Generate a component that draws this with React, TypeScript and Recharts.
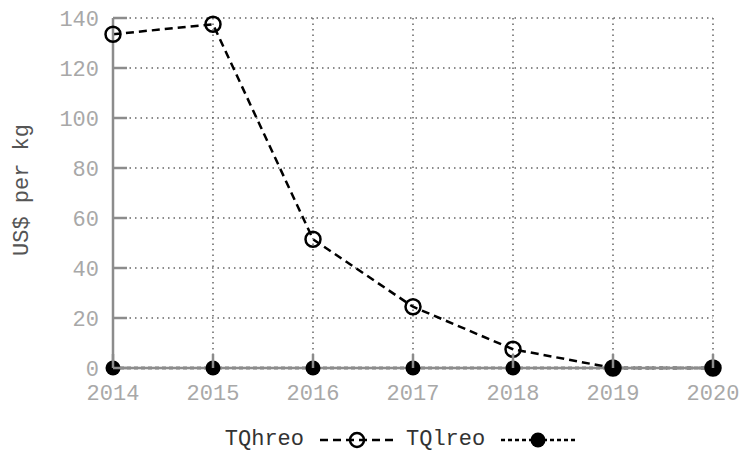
import { LineChart, Line, XAxis, YAxis, CartesianGrid, Label } from "recharts";

const years = [2014, 2015, 2016, 2017, 2018, 2019, 2020];
const tqhreo = [133.5, 137.5, 51.5, 24.5, 7.5, 0, 0];
const tqlreo = [0, 0, 0, 0, 0, 0, 0];
const yTicks = [0, 20, 40, 60, 80, 100, 120, 140];

const chartData = years.map((year, i) => ({
  year,
  TQhreo: tqhreo[i],
  TQlreo: tqlreo[i],
}));

const FONT = "'Courier New', 'Liberation Mono', monospace";
const AXIS_GRAY = "#8c8c8c";
const LABEL_GRAY = "#a8a8a8";
const TICK_LEN = 14;

function YTick({ x, y, payload }: any) {
  return (
    <g>
      <line x1={x} x2={x + TICK_LEN} y1={y} y2={y} stroke={AXIS_GRAY} strokeWidth={2.5} />
      <text x={x - 14} y={y} dy="0.35em" textAnchor="end" fill={LABEL_GRAY} fontSize={22} fontFamily={FONT}>
        {payload.value}
      </text>
    </g>
  );
}

function XTick({ x, y, payload }: any) {
  return (
    <g>
      <line x1={x} x2={x} y1={y} y2={y - TICK_LEN} stroke={AXIS_GRAY} strokeWidth={2.5} />
      <text x={x} y={y + 32} textAnchor="middle" fill={LABEL_GRAY} fontSize={22} fontFamily={FONT}>
        {payload.value}
      </text>
    </g>
  );
}

function YLabel({ viewBox }: any) {
  const cx = viewBox.x + 20;
  const cy = viewBox.y + viewBox.height / 2 - 3;
  return (
    <text
      x={cx}
      y={cy}
      dy="0.35em"
      textAnchor="middle"
      transform={`rotate(-90, ${cx}, ${cy})`}
      fill="#555"
      fontSize={22}
      fontFamily={FONT}
    >
      US$ per kg
    </text>
  );
}

function LegendItem({ name, dash, filled }: { name: string; dash: string; filled: boolean }) {
  return (
    <div style={{ display: "flex", alignItems: "center" }}>
      <span style={{ fontFamily: FONT, fontSize: 22, color: "#333" }}>{name}</span>
      <svg width={74} height={24} style={{ marginLeft: 16, marginRight: 12 }}>
        <line x1={0} x2={74} y1={12} y2={12} stroke="#000" strokeWidth={2.5} strokeDasharray={dash} />
        <circle
          cx={37}
          cy={12}
          r={filled ? 7.5 : 7}
          fill={filled ? "#000" : "none"}
          stroke="#000"
          strokeWidth={filled ? 0 : 2.5}
        />
      </svg>
    </div>
  );
}

export default function App() {
  return (
    <div style={{ position: "absolute", left: 0, top: 0, width: 742, height: 451, background: "#fff" }}>
      <LineChart
        width={742}
        height={451}
        data={chartData}
        margin={{ top: 18, right: 29, left: 0, bottom: 0 }}
      >
        <CartesianGrid stroke="#666" strokeWidth={1.5} strokeDasharray="1.5 4" />
        <XAxis
          dataKey="year"
          type="number"
          domain={[2014, 2020]}
          ticks={years}
          height={83}
          axisLine={{ stroke: AXIS_GRAY, strokeWidth: 2.5 }}
          tickLine={false}
          tickSize={0}
          tickMargin={0}
          tick={<XTick />}
        />
        <YAxis
          domain={[0, 140]}
          ticks={yTicks}
          width={113}
          axisLine={{ stroke: AXIS_GRAY, strokeWidth: 2.5 }}
          tickLine={false}
          tickSize={0}
          tickMargin={0}
          tick={<YTick />}
        >
          <Label content={<YLabel />} />
        </YAxis>
        <Line
          dataKey="TQlreo"
          type="linear"
          stroke="#000"
          strokeWidth={2.5}
          strokeDasharray="4 3"
          dot={{ r: 7.5, fill: "#000", stroke: "#000", strokeWidth: 0 }}
          isAnimationActive={false}
        />
        <Line
          dataKey="TQhreo"
          type="linear"
          stroke="#000"
          strokeWidth={2.5}
          strokeDasharray="8 5"
          dot={{ r: 7.5, fill: "none", stroke: "#000", strokeWidth: 2.5, strokeDasharray: "0" }}
          isAnimationActive={false}
        />
      </LineChart>
      <div
        style={{
          position: "absolute",
          top: 427,
          left: 0,
          width: 742,
          display: "flex",
          justifyContent: "center",
          paddingLeft: 70,
          boxSizing: "border-box",
        }}
      >
        <LegendItem name="TQhreo" dash="8 5" filled={false} />
        <LegendItem name="TQlreo" dash="4 3" filled={true} />
      </div>
    </div>
  );
}
